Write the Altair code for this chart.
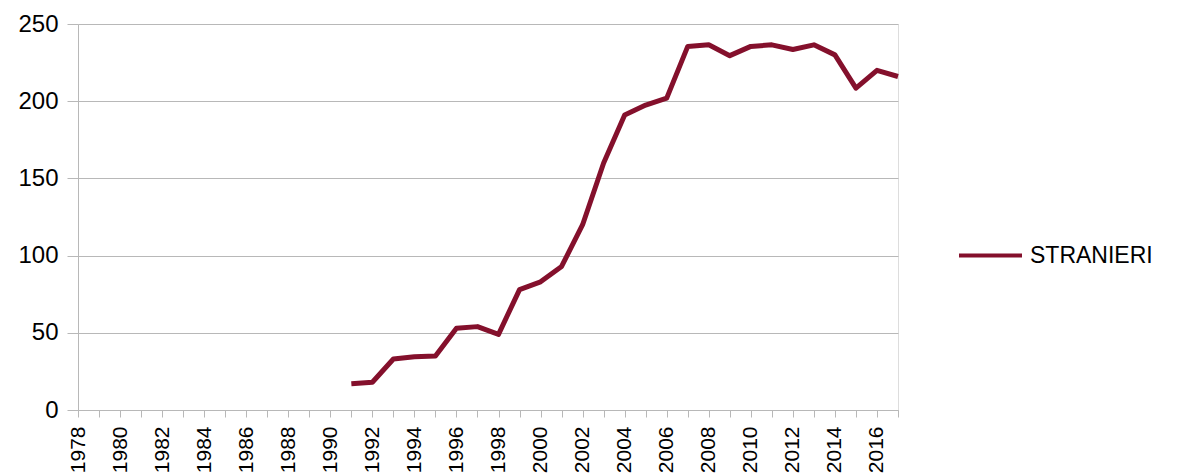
import altair as alt
import pandas as pd

# Annual counts for the STRANIERI series (no data before 1991)
years = list(range(1991, 2018))
values = [17, 18, 33, 34.5, 35, 53, 54, 49, 78, 83, 93, 120, 160, 191, 197.5, 202,
          235.5, 236.5, 229.5, 235.5, 236.5, 233.5, 236.5, 230, 208.5, 220, 216]
series_name = "STRANIERI"
tick_years = list(range(1978, 2018))
y_ticks = [0, 50, 100, 150, 200, 250]

df = pd.DataFrame({"year": years, "value": values, "series": series_name})

FONT = "Liberation Sans"
GRID = "#b8b8b8"
LINE = "#84102c"
TEXT = "#000000"

chart = (
    alt.Chart(df)
    .mark_line(strokeWidth=5, strokeJoin="round", strokeCap="butt")
    .encode(
        x=alt.X(
            "year:Q",
            scale=alt.Scale(domain=[1978, 2017], nice=False, zero=False),
            axis=alt.Axis(
                title=None,
                values=tick_years,
                format="d",
                labelExpr="datum.value % 2 == 0 ? datum.label : ''",
                labelOverlap=False,
                labelAngle=-90,
                labelAlign="right",
                labelBaseline="middle",
                labelFont=FONT,
                labelFontSize=21,
                labelColor=TEXT,
                labelPadding=9,
                tickSize=7,
                tickColor=GRID,
                domainColor=GRID,
                grid=False,
            ),
        ),
        y=alt.Y(
            "value:Q",
            scale=alt.Scale(domain=[0, 250], nice=False),
            axis=alt.Axis(
                title=None,
                values=y_ticks,
                labelFont=FONT,
                labelFontSize=24,
                labelColor=TEXT,
                labelPadding=9,
                tickSize=11,
                tickColor=GRID,
                domainColor=GRID,
                gridColor=GRID,
            ),
        ),
        color=alt.Color(
            "series:N",
            scale=alt.Scale(domain=[series_name], range=[LINE]),
            legend=alt.Legend(
                title=None,
                orient="none",
                legendX=879,
                legendY=198,
                padding=0,
                symbolType="stroke",
                symbolSize=3969,
                symbolStrokeWidth=4,
                labelFont=FONT,
                labelFontSize=23,
                labelColor=TEXT,
                labelOffset=6,
            ),
        ),
    )
    .properties(
        width=820,
        height=386,
        autosize=alt.AutoSizeParams(type="none"),
        padding={"left": 78, "top": 24, "right": 279, "bottom": 64},
    )
    .configure_view(stroke=GRID, strokeWidth=1)
    .configure(background="white")
)

chart.save("out.html", embed_options={"renderer": "svg", "actions": False})
